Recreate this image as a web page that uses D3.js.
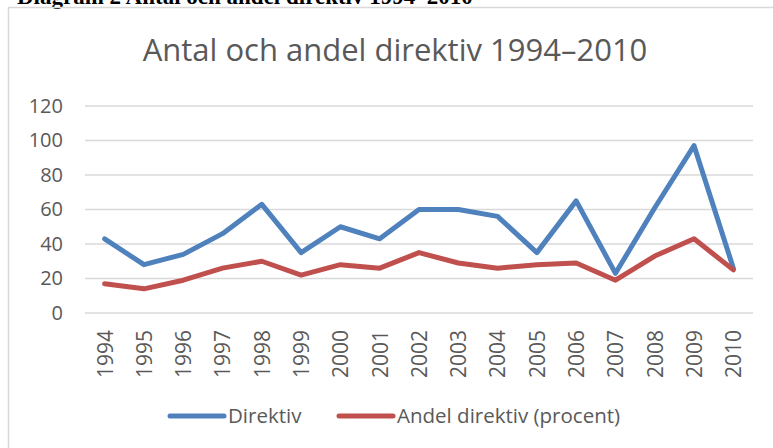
<!DOCTYPE html>
<html>
<head>
<meta charset="utf-8">
<script src="https://cdn.jsdelivr.net/npm/d3@7"></script>
<style>
  body { margin: 0; background: #fff; }
  svg { display: block; }
</style>
</head>
<body>
<div id="chart"></div>
<script>
// Data
const years = ["1994","1995","1996","1997","1998","1999","2000","2001","2002","2003","2004","2005","2006","2007","2008","2009","2010"];
const direktiv = [43, 28, 34, 46, 63, 35, 50, 43, 60, 60, 56, 35, 65, 23, 61, 97, 26];
const andel = [17, 14, 19, 26, 30, 22, 28, 26, 35, 29, 26, 28, 29, 19, 33, 43, 25];
const yTicks = [0, 20, 40, 60, 80, 100, 120];
const seriesNames = ["Direktiv", "Andel direktiv (procent)"];
const colors = ["#4f81bd", "#c0504d"];

const width = 773, height = 448;
const font = "'Open Sans', sans-serif";
const textColor = "#595959";

const svg = d3.select("#chart").append("svg")
  .attr("width", width)
  .attr("height", height);

// heading above the chart (cut off at the top in the source)
svg.append("text")
  .attr("x", 17)
  .attr("y", 4)
  .attr("font-family", "'Liberation Serif', serif")
  .attr("font-weight", "bold")
  .attr("font-size", 23)
  .attr("fill", "#000")
  .text("Diagram 2 Antal och andel direktiv 1994–2010");

// chart frame
svg.append("rect")
  .attr("x", 8.5)
  .attr("y", 7.5)
  .attr("width", 800)
  .attr("height", 500)
  .attr("fill", "none")
  .attr("stroke", "#d9d9d9")
  .attr("stroke-width", 1.5);

// title
svg.append("text")
  .attr("x", 395)
  .attr("y", 61)
  .attr("text-anchor", "middle")
  .attr("font-family", font)
  .attr("font-size", 31)
  .attr("fill", textColor)
  .text("Antal och andel direktiv 1994–2010");

// scales
var x = d3.scalePoint()
  .domain(years)
  .range([85, 753])
  .padding(0.5);

var y = d3.scaleLinear()
  .domain([0, 120])
  .range([313, 106]);

// gridlines
svg.append("g")
  .selectAll("line")
  .data(yTicks)
  .enter().append("line")
  .attr("x1", 85)
  .attr("x2", 753)
  .attr("y1", d => y(d))
  .attr("y2", d => y(d))
  .attr("stroke", "#d9d9d9")
  .attr("stroke-width", 1.5);

// Y axis
const yAxis = svg.append("g")
  .attr("transform", "translate(85,0)")
  .call(d3.axisLeft(y).tickValues(yTicks).tickSize(0).tickPadding(22));
yAxis.select(".domain").remove();
yAxis.selectAll("text")
  .attr("font-family", font)
  .attr("font-size", 20)
  .attr("fill", textColor);

// X axis
const xAxis = svg.append("g")
  .attr("transform", "translate(0,313)")
  .call(d3.axisBottom(x).tickSize(0));
xAxis.select(".domain").remove();
xAxis.selectAll("text")
  .attr("font-family", font)
  .attr("font-size", 21)
  .attr("fill", textColor)
  .attr("text-anchor", "end")
  .attr("transform", "translate(0,17)rotate(-90)")
  .attr("x", 0)
  .attr("y", 0)
  .attr("dy", "0.35em");

// lines
const line = d3.line()
  .x((d, i) => x(years[i]))
  .y(d => y(d));

[direktiv, andel].forEach((series, i) => {
  svg.append("path")
    .datum(series)
    .attr("d", line)
    .attr("fill", "none")
    .attr("stroke", colors[i])
    .attr("stroke-width", 5)
    .attr("stroke-linejoin", "round")
    .attr("stroke-linecap", "round");
});

// legend
const legendX = [170, 339];
const legend = svg.append("g");
seriesNames.forEach((name, i) => {
  legend.append("line")
    .attr("x1", legendX[i])
    .attr("x2", legendX[i] + 54)
    .attr("y1", 416)
    .attr("y2", 416)
    .attr("stroke", colors[i])
    .attr("stroke-width", 5)
    .attr("stroke-linecap", "round");
  legend.append("text")
    .attr("x", legendX[i] + 58)
    .attr("y", 423)
    .attr("font-family", font)
    .attr("font-size", 20.5)
    .attr("fill", textColor)
    .text(name);
});
</script>
</body>
</html>
